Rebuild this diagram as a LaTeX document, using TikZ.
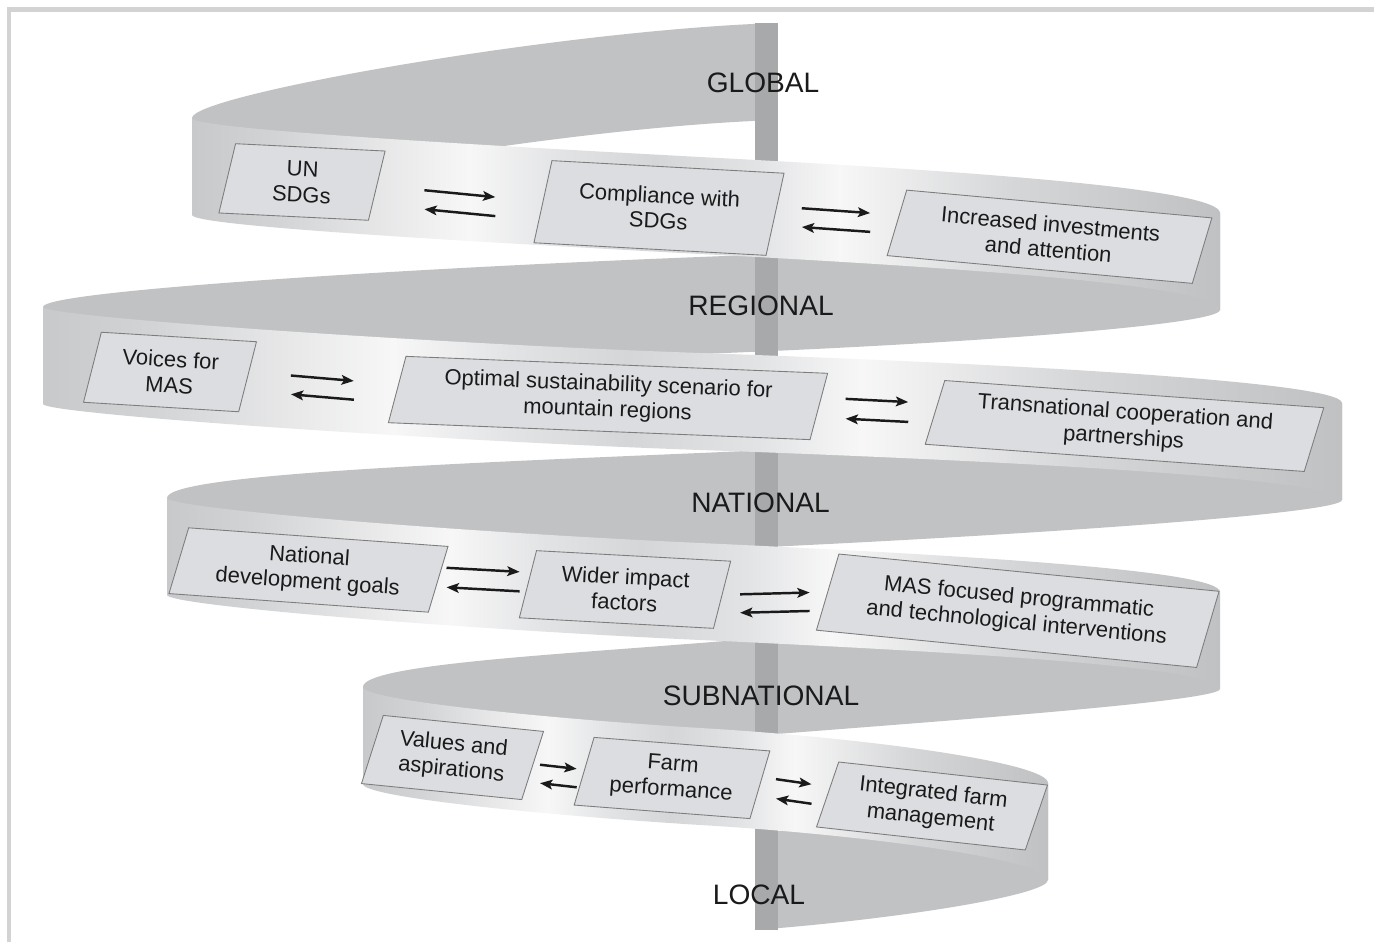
\documentclass[tikz,border=0pt]{standalone}
\usepackage{fontspec}
\setmainfont{Liberation Sans}
\usetikzlibrary{shapes.geometric,arrows.meta}

\definecolor{frameline}{HTML}{D3D3D3}
\definecolor{backgray}{HTML}{C1C2C4}
\definecolor{polegray}{HTML}{A8A9AB}
\definecolor{boxfill}{HTML}{DCDDE0}
\definecolor{boxline}{HTML}{7D7D7D}
\definecolor{ink}{HTML}{1A1A1A}
\definecolor{bandA}{HTML}{C8C9CB}
\definecolor{bandB}{HTML}{D2D3D5}
\definecolor{bandC}{HTML}{F7F7F7}
\definecolor{bandD}{HTML}{E2E3E5}
\definecolor{bandE}{HTML}{D5D6D8}
\definecolor{bandF}{HTML}{C0C1C3}
\pgfdeclarehorizontalshading{bandshade}{100bp}{color(0bp)=(bandA); color(25bp)=(bandA);
  color(29bp)=(bandB); color(38.5bp)=(bandC); color(43bp)=(bandD); color(47.5bp)=(bandE);
  color(52.5bp)=(bandD); color(56.5bp)=(bandC); color(65bp)=(bandE); color(75bp)=(bandF);
  color(100bp)=(bandF)}

\begin{document}
\begin{tikzpicture}[x=0.02cm,y=-0.02cm,
    backface/.style={fill=backgray},
    frontface/.style={shading=bandshade},
    box/.style={trapezium,trapezium left angle=72,trapezium right angle=108,
      trapezium stretches=true,trapezium stretches body=true,
      draw=boxline,line width=0.5pt,fill=boxfill,inner sep=0pt,align=center,
      text=ink,font=\fontsize{12.5}{14.5}\selectfont},
    fwd/.style={-{Stealth[length=7pt,width=5.5pt,inset=1.5pt]},line width=1.4pt,ink},
    level/.style={text=ink,font=\fontsize{16}{19}\selectfont}]
  \useasboundingbox (0,0) rectangle (1374,942);
  \draw[frameline,line width=2.3pt] (9,942) -- (9,9.5) -- (1374,9.5);

  % inner faces of the ribbon
  \fill[backface] (777,23) .. controls (560,30) and (192,95) .. (192,118) -- (192,215)
    .. controls (192,192) and (560,127) .. (777,120) -- cycle;
  \fill[backface] (1220,213) .. controls (1220,228) and (960,247) .. (700,257)
    .. controls (440,267) and (43,290) .. (43,307) -- (43,404)
    .. controls (43,387) and (440,364) .. (700,354)
    .. controls (960,344) and (1220,325) .. (1220,310) -- cycle;
  \fill[backface] (1342,403) .. controls (1342,418) and (960,442) .. (700,453)
    .. controls (440,464) and (167,475) .. (167,498) -- (167,595)
    .. controls (167,572) and (440,561) .. (700,550)
    .. controls (960,539) and (1342,515) .. (1342,500) -- cycle;
  \fill[backface] (1220,592) .. controls (1220,605) and (900,627) .. (700,643)
    .. controls (550,655) and (363,665) .. (363,687) -- (363,784)
    .. controls (363,762) and (550,752) .. (700,740)
    .. controls (900,724) and (1220,702) .. (1220,689) -- cycle;
  \fill[backface] (1048,783) .. controls (1048,798) and (900,822) .. (755,833) -- (755,930)
    .. controls (900,919) and (1048,895) .. (1048,880) -- cycle;

  % pole
  \fill[polegray] (755,23) rectangle (778,930);

  % outer faces of the ribbon
  \shade[frontface] (192,118) .. controls (192,128) and (420,142) .. (700,157)
    .. controls (950,170) and (1220,188) .. (1220,213) -- (1220,310)
    .. controls (1220,285) and (950,267) .. (700,254)
    .. controls (420,239) and (192,225) .. (192,215) -- cycle;
  \shade[frontface] (43,307) .. controls (43,317) and (440,344) .. (700,353)
    .. controls (960,362) and (1342,380) .. (1342,403) -- (1342,500)
    .. controls (1342,477) and (960,459) .. (700,450)
    .. controls (440,441) and (43,414) .. (43,404) -- cycle;
  \shade[frontface] (167,498) .. controls (167,508) and (440,531) .. (700,543)
    .. controls (960,555) and (1220,570) .. (1220,592) -- (1220,689)
    .. controls (1220,667) and (960,652) .. (700,640)
    .. controls (440,628) and (167,605) .. (167,595) -- cycle;
  \shade[frontface] (363,687) .. controls (363,700) and (540,718) .. (700,728)
    .. controls (870,738) and (1048,763) .. (1048,783) -- (1048,880)
    .. controls (1048,860) and (870,835) .. (700,825)
    .. controls (540,815) and (363,797) .. (363,784) -- cycle;

  % boxes
  \node[box,minimum width=3.26cm,minimum height=1.40cm,rotate=-2.8] (un) at (302,182) {UN\\SDGs};
  \node[box,minimum width=4.92cm,minimum height=1.66cm,rotate=-3.1] (comp) at (659,208) {Compliance with\\SDGs};
  \node[box,minimum width=6.40cm,minimum height=1.34cm,rotate=-5.2] (invest) at (1049.5,236.75) {Increased investments\\and attention};
  \node[box,minimum width=3.38cm,minimum height=1.42cm,rotate=-3.5] (voices) at (170,372) {Voices for\\MAS};
  \node[box,minimum width=8.74cm,minimum height=1.34cm,rotate=-2.3] (optimal) at (608,398) {Optimal sustainability scenario for\\mountain regions};
  \node[box,minimum width=7.90cm,minimum height=1.30cm,rotate=-4.1] (transn) at (1124.5,426) {Transnational cooperation and\\partnerships};
  \node[box,minimum width=5.50cm,minimum height=1.34cm,rotate=-4.1] (natgoal) at (308.5,570) {National\\development goals};
  \node[box,minimum width=4.16cm,minimum height=1.36cm,rotate=-3.1] (wider) at (625,589.5) {Wider impact\\factors};
  \node[box,minimum width=7.94cm,minimum height=1.56cm,rotate=-5.6] (masint) at (1017.75,610.75) {MAS focused programmatic\\and technological interventions};
  \node[box,minimum width=3.52cm,minimum height=1.40cm,rotate=-5.7] (values) at (452.5,757.5) {Values and\\aspirations};
  \node[box,minimum width=3.82cm,minimum height=1.38cm,rotate=-4.4] (farmperf) at (672,778) {Farm\\performance};
  \node[box,minimum width=4.50cm,minimum height=1.34cm,rotate=-6.3] (intfarm) at (932,806) {Integrated farm\\management};

  % two-way arrows
  \draw[fwd,shorten <=27pt,shorten >=27pt] (un.east) -- (comp.west);
  \draw[fwd,shorten <=27pt,shorten >=27pt] ([yshift=-10.8pt]comp.west) -- ([yshift=-10.8pt]un.east);
  \draw[fwd,shorten <=15pt,shorten >=15pt] ([yshift=4.5pt]comp.east) -- ([yshift=4.5pt]invest.west);
  \draw[fwd,shorten <=15pt,shorten >=15pt] ([yshift=-6.2pt]invest.west) -- ([yshift=-6.2pt]comp.east);
  \draw[fwd,shorten <=24.5pt,shorten >=24.5pt] ([yshift=2.8pt]voices.east) -- ([yshift=2.8pt]optimal.west);
  \draw[fwd,shorten <=24.5pt,shorten >=24.5pt] ([yshift=-7.9pt]optimal.west) -- ([yshift=-7.9pt]voices.east);
  \draw[fwd,shorten <=15pt,shorten >=15pt] ([yshift=5.1pt]optimal.east) -- ([yshift=5.1pt]transn.west);
  \draw[fwd,shorten <=15pt,shorten >=15pt] ([yshift=-6.2pt]transn.west) -- ([yshift=-6.2pt]optimal.east);
  \draw[fwd,shorten <=4.5pt,shorten >=4.5pt] ([yshift=6.8pt]natgoal.east) -- ([yshift=6.8pt]wider.west);
  \draw[fwd,shorten <=4.5pt,shorten >=4.5pt] ([yshift=-4.3pt]wider.west) -- ([yshift=-4.3pt]natgoal.east);
  \draw[fwd,shorten <=10pt,shorten >=10pt] (wider.east) -- (masint.west);
  \draw[fwd,shorten <=10pt,shorten >=10pt] ([yshift=-10.5pt]masint.west) -- ([yshift=-10.5pt]wider.east);
  \draw[fwd,shorten <=4pt,shorten >=4pt] ([yshift=0.9pt]values.east) -- ([yshift=0.9pt]farmperf.west);
  \draw[fwd,shorten <=4pt,shorten >=4pt] ([yshift=-9.6pt]farmperf.west) -- ([yshift=-9.6pt]values.east);
  \draw[fwd,shorten <=9pt,shorten >=9pt] ([yshift=4.5pt]farmperf.east) -- ([yshift=4.5pt]intfarm.west);
  \draw[fwd,shorten <=9pt,shorten >=9pt] ([yshift=-6.6pt]intfarm.west) -- ([yshift=-6.6pt]farmperf.east);

  % levels
  \node[level] (global) at (763,82.5) {GLOBAL};
  \node[level] (regional) at (761,306) {REGIONAL};
  \node[level] (national) at (760.5,502.5) {NATIONAL};
  \node[level] (subnat) at (761,696) {SUBNATIONAL};
  \node[level] (local) at (759,895) {LOCAL};
\end{tikzpicture}
\end{document}
